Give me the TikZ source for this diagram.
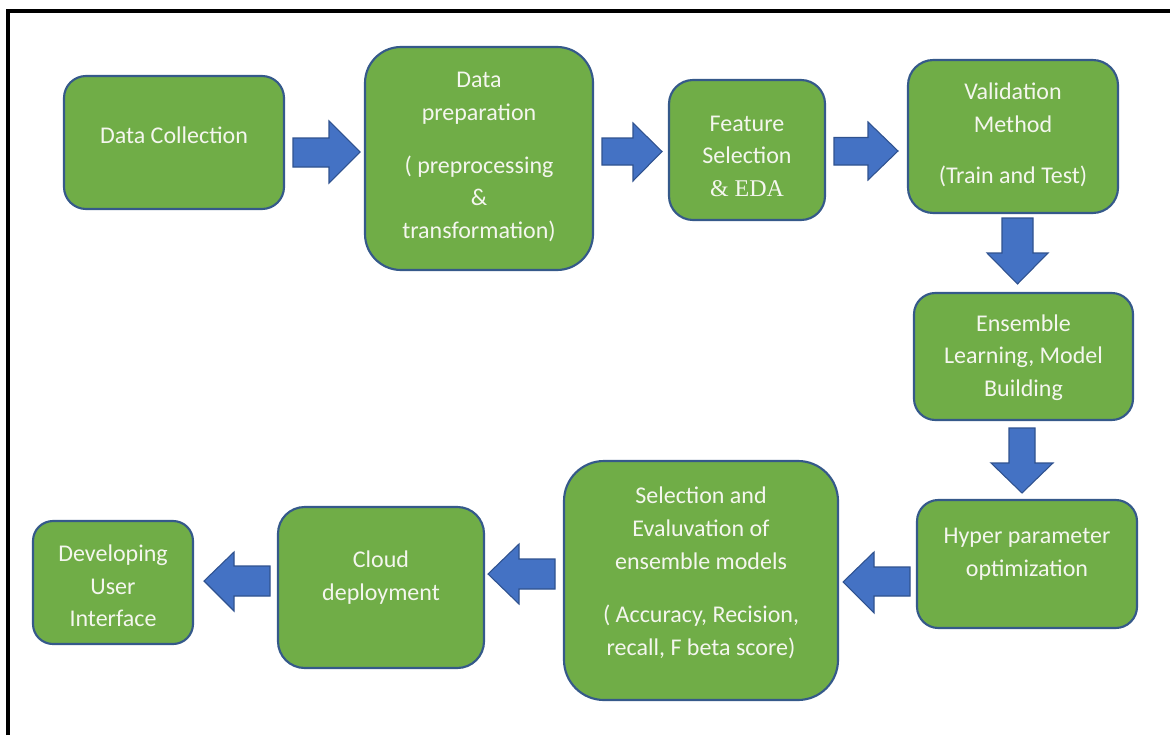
\documentclass[tikz,border=0pt]{standalone}
\usepackage{fontspec}
\setmainfont{Carlito}
\newfontfamily\serifeda{Liberation Serif}
\definecolor{boxgreen}{HTML}{70AD47}
\definecolor{boxline}{HTML}{35598A}
\definecolor{arrowfill}{HTML}{4472C4}
\definecolor{arrowline}{HTML}{2F528F}
\definecolor{txt}{HTML}{F4F6EE}
\begin{document}
\begin{tikzpicture}[x=0.75pt,y=-0.75pt,
  stepbox/.style={draw=boxline,line width=1.6pt,fill=boxgreen,inner sep=0pt},
  steptext/.style={text=txt,align=center,font=\fontsize{18}{24.4}\selectfont,inner sep=0pt},
  blockarrow/.style={draw=arrowline,line width=0.8pt,fill=arrowfill,line join=miter}]
\useasboundingbox (0,0) rectangle (1170,735);
% outer frame (top and left edges)
\draw[line width=3pt] (8.3,735) -- (8.3,11) -- (1170,11);

% boxes (sizes in pt = 0.75 x pixels)
\node[stepbox,minimum width=165pt,minimum height=99.75pt,rounded corners=16.5pt] (dc) at (174,142.5) {};
\node[stepbox,minimum width=171pt,minimum height=167.25pt,rounded corners=27pt] (prep) at (479,158.5) {};
\node[stepbox,minimum width=117pt,minimum height=105pt,rounded corners=18pt] (feat) at (747,150) {};
\node[stepbox,minimum width=157.5pt,minimum height=114.75pt,rounded corners=19pt] (valid) at (1013,136.5) {};
\node[stepbox,minimum width=164.25pt,minimum height=95.25pt,rounded corners=16pt] (ens) at (1023.5,356.5) {};
\node[stepbox,minimum width=165pt,minimum height=96pt,rounded corners=16pt] (hyp) at (1027,564) {};
\node[stepbox,minimum width=205.5pt,minimum height=179.25pt,rounded corners=30pt] (sel) at (701,580.5) {};
\node[stepbox,minimum width=154.5pt,minimum height=120.75pt,rounded corners=20pt] (cloud) at (381,587.5) {};
\node[stepbox,minimum width=120pt,minimum height=92.25pt,rounded corners=15pt] (dev) at (113,582.5) {};

% texts
\node[steptext] (tdc) at (174,135) {Data Collection};
\node[steptext] (tprep) at (479,157) {Data\\preparation\\[15pt]( preprocessing\\\&\\transformation)};
\node[steptext] (tfeat) at (747,156) {Feature\\Selection\\{\serifeda\& EDA}};
\node[steptext] (tvalid) at (1013,135) {Validation\\Method\\[14pt](Train and Test)};
\node[steptext] (tens) at (1023.5,357.5) {Ensemble\\Learning, Model\\Building};
\node[steptext] (thyp) at (1027,554) {Hyper parameter\\optimization};
\node[steptext] (tsel) at (701,573) {Selection and\\Evaluvation of\\ensemble models\\[16pt]( Accuracy, Recision,\\recall, F beta score)};
\node[steptext] (tcloud) at (381,577.5) {Cloud\\deployment};
\node[steptext] (tdev) at (113,586) {Developing\\User\\Interface};

% block arrows
\draw[blockarrow] (293,138) -- (329,138) -- (329,121) -- (360,152) -- (329,183) -- (329,167) -- (293,167) -- cycle;
\draw[blockarrow] (602,138) -- (633,138) -- (633,123) -- (662,151.5) -- (633,181) -- (633,165) -- (602,165) -- cycle;
\draw[blockarrow] (834,137.5) -- (868,137.5) -- (868,122) -- (898,151) -- (868,180) -- (868,165) -- (834,165) -- cycle;
\draw[blockarrow] (1002,218) -- (1033,218) -- (1033,253) -- (1048,253) -- (1017.5,284) -- (987,253) -- (1002,253) -- cycle;
\draw[blockarrow] (1009,428) -- (1035,428) -- (1035,463) -- (1053,463) -- (1022,493) -- (991,463) -- (1009,463) -- cycle;
\draw[blockarrow] (910,567) -- (874,567) -- (874,552) -- (843,582) -- (874,613) -- (874,596) -- (910,596) -- cycle;
\draw[blockarrow] (555,559) -- (519,559) -- (519,544) -- (488,574) -- (519,604) -- (519,589) -- (555,589) -- cycle;
\draw[blockarrow] (270,566) -- (234,566) -- (234,552) -- (204,581) -- (234,611) -- (234,596) -- (270,596) -- cycle;
\end{tikzpicture}
\end{document}
